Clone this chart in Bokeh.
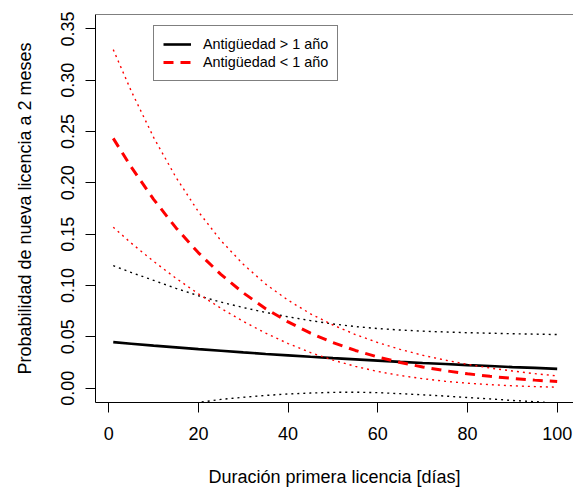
from bokeh.plotting import figure
from bokeh.models import (Range1d, FixedTicker, PrintfTickFormatter, Span, Legend, LegendItem)
from bokeh.embed import file_html
from bokeh.resources import INLINE

# Duración primera licencia [días]
dias = [1, 5, 10, 15, 20, 25, 30, 35, 40, 45, 50, 55, 60, 65, 70, 75, 80, 85, 90, 95, 100]

# Antigüedad > 1 año (fit and confidence band)
mayor_fit = [0.0448, 0.0433, 0.0414, 0.0397, 0.0380, 0.0364, 0.0348, 0.0333, 0.0319, 0.0305, 0.0292,
             0.0280, 0.0268, 0.0256, 0.0245, 0.0235, 0.0224, 0.0215, 0.0205, 0.0197, 0.0188]
mayor_sup = [0.1193, 0.1127, 0.1050, 0.0972, 0.0900, 0.0838, 0.0785, 0.0737, 0.0695, 0.0658, 0.0625,
             0.0600, 0.0580, 0.0566, 0.0555, 0.0547, 0.0540, 0.0535, 0.0530, 0.0526, 0.0522]
mayor_inf = [-0.0297, -0.0261, -0.0222, -0.0178, -0.0140, -0.0110, -0.0089, -0.0071, -0.0057, -0.0048, -0.0041,
             -0.0040, -0.0044, -0.0054, -0.0065, -0.0077, -0.0092, -0.0105, -0.0120, -0.0132, -0.0146]

# Antigüedad < 1 año (fit and confidence band)
menor_fit = [0.2433, 0.2154, 0.1839, 0.1561, 0.1318, 0.1108, 0.0928, 0.0774, 0.0645, 0.0535, 0.0444,
             0.0367, 0.0303, 0.0250, 0.0206, 0.0170, 0.0140, 0.0115, 0.0095, 0.0078, 0.0064]
menor_sup = [0.3298, 0.2895, 0.2443, 0.2052, 0.1718, 0.1438, 0.1206, 0.1013, 0.0856, 0.0724, 0.0615,
             0.0522, 0.0444, 0.0377, 0.0320, 0.0273, 0.0232, 0.0196, 0.0167, 0.0141, 0.0119]
menor_inf = [0.1568, 0.1413, 0.1235, 0.1070, 0.0918, 0.0778, 0.0650, 0.0535, 0.0434, 0.0346, 0.0273,
             0.0212, 0.0162, 0.0123, 0.0092, 0.0067, 0.0048, 0.0034, 0.0023, 0.0015, 0.0009]

x_ticks = [0, 20, 40, 60, 80, 100]
y_ticks = [0.00, 0.05, 0.10, 0.15, 0.20, 0.25, 0.30, 0.35]

FONT = "Liberation Sans"

p = figure(width=573, height=492, output_backend="svg", toolbar_location=None,
           x_range=Range1d(-2.96, 103.64), y_range=Range1d(-0.014, 0.364),
           min_border_left=95, min_border_right=0, min_border_top=14, min_border_bottom=90,
           x_axis_label="Duración primera licencia [días]",
           y_axis_label="Probabilidad de nueva licencia a 2 meses")
p.grid.visible = False
p.outline_line_color = None
p.background_fill_color = "white"
p.border_fill_color = "white"

for ax in (p.xaxis[0], p.yaxis[0]):
    ax.axis_line_color = "black"
    ax.axis_line_width = 1
    ax.major_tick_line_color = "black"
    ax.major_tick_in = 0
    ax.major_tick_out = 10
    ax.minor_tick_line_color = None
    ax.major_label_text_font = FONT
    ax.major_label_text_font_size = "18px"
    ax.major_label_text_color = "black"
    ax.axis_label_text_font = FONT
    ax.axis_label_text_font_size = "18px"
    ax.axis_label_text_font_style = "normal"
    ax.axis_label_text_color = "black"

p.xaxis[0].ticker = FixedTicker(ticks=x_ticks)
p.yaxis[0].ticker = FixedTicker(ticks=y_ticks)
p.yaxis[0].formatter = PrintfTickFormatter(format="%.2f")
p.yaxis[0].major_label_orientation = "vertical"
p.xaxis[0].major_label_standoff = 14
p.xaxis[0].axis_label_standoff = 24
p.yaxis[0].major_label_standoff = 11
p.yaxis[0].axis_label_standoff = 24

# top border of the box
p.add_layout(Span(location=0.364, dimension="width", line_color="black", line_width=1))

r1 = p.line(dias, mayor_fit, line_color="black", line_width=2.6)
p.line(dias, mayor_sup, line_color="black", line_width=1.4, line_dash="2 4")
p.line(dias, mayor_inf, line_color="black", line_width=1.4, line_dash="2 4")
r2 = p.line(dias, menor_fit, line_color="red", line_width=3, line_dash="10 7")
p.line(dias, menor_sup, line_color="red", line_width=1.4, line_dash="2 4")
p.line(dias, menor_inf, line_color="red", line_width=1.4, line_dash="2 4")

legend = Legend(items=[LegendItem(label="Antigüedad > 1 año", renderers=[r1]),
                       LegendItem(label="Antigüedad < 1 año", renderers=[r2])],
                location=(58, 321), orientation="vertical",
                border_line_color="black", border_line_width=1,
                background_fill_alpha=1, background_fill_color="white",
                label_text_font=FONT, label_text_font_size="14.4px", label_text_color="black",
                glyph_width=28, glyph_height=18, label_height=18, spacing=0, padding=9,
                label_standoff=12, margin=0)
p.add_layout(legend, "center")

open("out.html", "w").write(file_html(p, INLINE))
